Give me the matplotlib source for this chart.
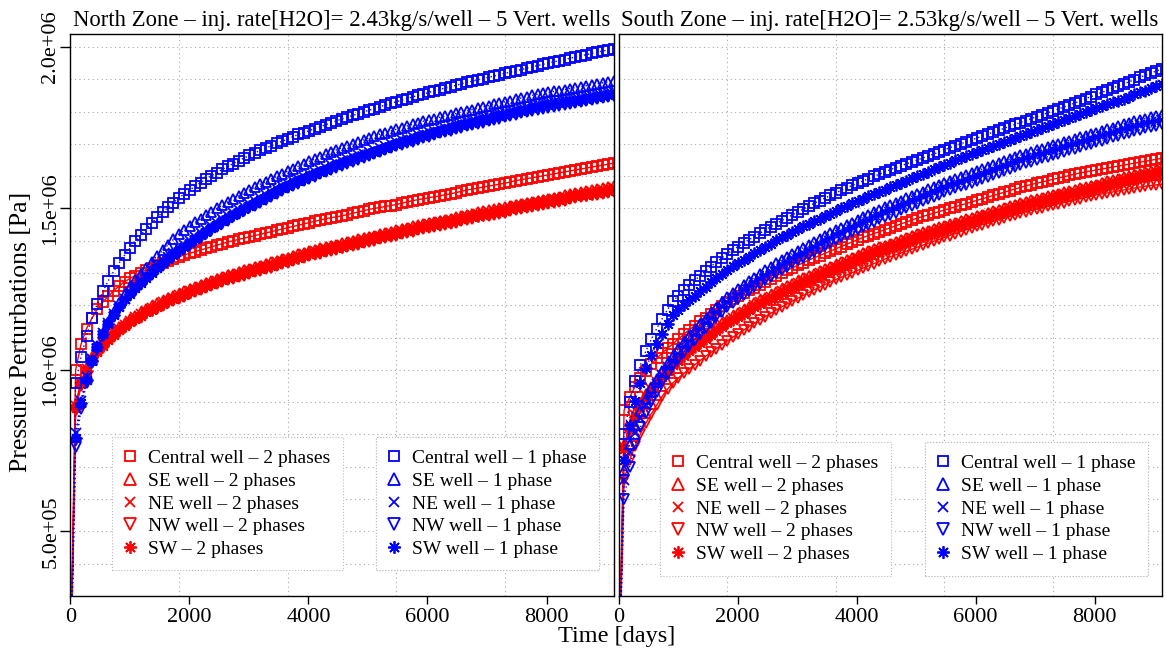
import matplotlib
matplotlib.use('Agg')
import matplotlib.pyplot as plt
from matplotlib.lines import Line2D
import numpy as np

plt.rcParams['font.family'] = ['Liberation Serif', 'DejaVu Serif']

# ------------------------------- Data (pressure in kPa) ------------------------------- #
days = [0, 91, 183, 274, 365, 456, 548, 639, 730, 821, 913, 1004, 1095, 1186, 1278, 1369, 1460,
        1551, 1643, 1734, 1825, 1916, 2008, 2099, 2190, 2281, 2373, 2464, 2555, 2646, 2738, 2829,
        2920, 3011, 3103, 3194, 3285, 3376, 3468, 3559, 3650, 3741, 3833, 3924, 4015, 4106, 4198,
        4289, 4380, 4471, 4563, 4654, 4745, 4836, 4928, 5019, 5110, 5201, 5293, 5384, 5475, 5566,
        5658, 5749, 5840, 5931, 6023, 6114, 6205, 6296, 6388, 6479, 6570, 6661, 6753, 6844, 6935,
        7026, 7118, 7209, 7300, 7391, 7483, 7574, 7665, 7756, 7848, 7939, 8030, 8121, 8213, 8304,
        8395, 8486, 8578, 8669, 8760, 8851, 8943, 9034, 9125]

# North zone - 2 phases
north_central_2ph = [0, 1000, 1080, 1128, 1160, 1188, 1210, 1228, 1245, 1260, 1273,
    1283, 1292, 1301, 1309, 1317, 1324, 1331, 1338, 1344, 1350,
    1356, 1361, 1366, 1371, 1376, 1381, 1386, 1391, 1396, 1400,
    1404, 1408, 1412, 1416, 1420, 1424, 1428, 1432, 1436, 1440,
    1444, 1448, 1452, 1456, 1460, 1464, 1468, 1471, 1474, 1477,
    1481, 1485, 1489, 1493, 1497, 1500, 1503, 1506, 1509, 1512,
    1516, 1520, 1524, 1527, 1530, 1533, 1536, 1539, 1542, 1545,
    1549, 1553, 1557, 1560, 1563, 1566, 1569, 1572, 1575, 1578,
    1582, 1586, 1589, 1592, 1595, 1598, 1601, 1604, 1607, 1610,
    1613, 1616, 1619, 1622, 1625, 1628, 1631, 1634, 1637, 1640]
north_se_2ph = [0, 893, 965, 1008, 1040, 1064, 1085, 1102, 1118, 1132, 1145,
    1157, 1168, 1178, 1188, 1197, 1206, 1214, 1222, 1229, 1236,
    1243, 1250, 1257, 1263, 1269, 1275, 1281, 1287, 1293, 1298,
    1303, 1308, 1313, 1318, 1323, 1328, 1333, 1338, 1343, 1348,
    1353, 1358, 1363, 1368, 1372, 1376, 1380, 1384, 1388, 1392,
    1396, 1400, 1404, 1408, 1412, 1416, 1420, 1424, 1428, 1432,
    1436, 1440, 1444, 1448, 1452, 1456, 1459, 1462, 1465, 1468,
    1472, 1476, 1480, 1484, 1488, 1491, 1494, 1497, 1500, 1503,
    1507, 1511, 1515, 1518, 1521, 1524, 1527, 1530, 1533, 1536,
    1540, 1544, 1547, 1550, 1553, 1556, 1559, 1562, 1565, 1568]
north_ne_2ph = [0, 888, 960, 1003, 1035, 1059, 1080, 1097, 1113, 1127, 1140,
    1152, 1163, 1173, 1183, 1192, 1201, 1209, 1217, 1224, 1231,
    1238, 1245, 1252, 1258, 1264, 1270, 1276, 1282, 1288, 1293,
    1298, 1303, 1308, 1313, 1318, 1323, 1328, 1333, 1338, 1343,
    1348, 1353, 1358, 1363, 1367, 1371, 1375, 1379, 1383, 1387,
    1391, 1395, 1399, 1403, 1407, 1411, 1415, 1419, 1423, 1427,
    1431, 1435, 1439, 1443, 1447, 1451, 1454, 1457, 1460, 1463,
    1467, 1471, 1475, 1479, 1483, 1486, 1489, 1492, 1495, 1498,
    1502, 1506, 1510, 1513, 1516, 1519, 1522, 1525, 1528, 1531,
    1535, 1539, 1542, 1545, 1548, 1551, 1554, 1557, 1560, 1563]
north_nw_2ph = [0, 877, 949, 992, 1024, 1048, 1069, 1086, 1102, 1116, 1129,
    1141, 1152, 1162, 1172, 1181, 1190, 1198, 1206, 1213, 1220,
    1227, 1234, 1241, 1247, 1253, 1259, 1265, 1271, 1277, 1282,
    1287, 1292, 1297, 1302, 1307, 1312, 1317, 1322, 1327, 1332,
    1337, 1342, 1347, 1352, 1356, 1360, 1364, 1368, 1372, 1376,
    1380, 1384, 1388, 1392, 1396, 1400, 1404, 1408, 1412, 1416,
    1420, 1424, 1428, 1432, 1436, 1440, 1443, 1446, 1449, 1452,
    1456, 1460, 1464, 1468, 1472, 1475, 1478, 1481, 1484, 1487,
    1491, 1495, 1499, 1502, 1505, 1508, 1511, 1514, 1517, 1520,
    1524, 1528, 1531, 1534, 1537, 1540, 1543, 1546, 1549, 1552]
north_sw_2ph = [0, 883, 955, 998, 1030, 1054, 1075, 1092, 1108, 1122, 1135,
    1147, 1158, 1168, 1178, 1187, 1196, 1204, 1212, 1219, 1226,
    1233, 1240, 1247, 1253, 1259, 1265, 1271, 1277, 1283, 1288,
    1293, 1298, 1303, 1308, 1313, 1318, 1323, 1328, 1333, 1338,
    1343, 1348, 1353, 1358, 1362, 1366, 1370, 1374, 1378, 1382,
    1386, 1390, 1394, 1398, 1402, 1406, 1410, 1414, 1418, 1422,
    1426, 1430, 1434, 1438, 1442, 1446, 1449, 1452, 1455, 1458,
    1462, 1466, 1470, 1474, 1478, 1481, 1484, 1487, 1490, 1493,
    1497, 1501, 1505, 1508, 1511, 1514, 1517, 1520, 1523, 1526,
    1530, 1534, 1537, 1540, 1543, 1546, 1549, 1552, 1555, 1558]

# North zone - 1 phase
north_central_1ph = [0, 960, 1040, 1105, 1160, 1205, 1243, 1276, 1305, 1331, 1355,
    1377, 1398, 1418, 1437, 1455, 1472, 1488, 1503, 1518, 1532,
    1545, 1557, 1569, 1580, 1591, 1601, 1611, 1621, 1630, 1639,
    1648, 1656, 1664, 1672, 1680, 1687, 1694, 1701, 1708, 1715,
    1722, 1729, 1735, 1741, 1747, 1753, 1759, 1765, 1771, 1777,
    1782, 1788, 1793, 1799, 1804, 1809, 1815, 1820, 1825, 1830,
    1835, 1840, 1845, 1850, 1854, 1859, 1864, 1868, 1873, 1877,
    1881, 1886, 1890, 1894, 1898, 1902, 1906, 1910, 1914, 1918,
    1922, 1926, 1930, 1934, 1938, 1942, 1946, 1950, 1954, 1957,
    1961, 1965, 1969, 1973, 1976, 1980, 1984, 1987, 1991, 1995]
north_se_1ph = [0, 795, 900, 975, 1030, 1075, 1113, 1147, 1179, 1208, 1235,
    1257, 1278, 1298, 1317, 1335, 1353, 1370, 1387, 1404, 1420,
    1433, 1445, 1457, 1468, 1479, 1490, 1500, 1510, 1520, 1530,
    1539, 1548, 1557, 1566, 1575, 1583, 1591, 1599, 1607, 1615,
    1623, 1631, 1639, 1646, 1653, 1660, 1667, 1674, 1681, 1688,
    1694, 1700, 1706, 1712, 1718, 1724, 1730, 1735, 1740, 1745,
    1750, 1755, 1760, 1765, 1770, 1774, 1778, 1782, 1786, 1790,
    1794, 1798, 1802, 1806, 1810, 1814, 1818, 1822, 1826, 1830,
    1834, 1838, 1842, 1846, 1850, 1853, 1856, 1859, 1862, 1865,
    1868, 1871, 1874, 1877, 1880, 1883, 1886, 1889, 1892, 1895]
north_ne_1ph = [0, 805, 905, 978, 1033, 1076, 1113, 1145, 1173, 1198, 1220,
    1242, 1259, 1276, 1292, 1307, 1322, 1336, 1350, 1363, 1376,
    1388, 1400, 1412, 1423, 1434, 1445, 1456, 1466, 1476, 1486,
    1496, 1505, 1514, 1523, 1532, 1541, 1550, 1559, 1568, 1576,
    1584, 1591, 1598, 1605, 1612, 1619, 1626, 1633, 1640, 1646,
    1652, 1658, 1664, 1670, 1676, 1682, 1688, 1694, 1700, 1706,
    1711, 1716, 1721, 1726, 1731, 1736, 1741, 1746, 1750, 1754,
    1759, 1764, 1768, 1772, 1776, 1780, 1784, 1788, 1792, 1796,
    1800, 1804, 1808, 1812, 1816, 1819, 1822, 1825, 1828, 1831,
    1834, 1837, 1840, 1843, 1846, 1849, 1852, 1855, 1858, 1861]
north_nw_1ph = [0, 760, 880, 960, 1020, 1065, 1105, 1135, 1163, 1188, 1210,
    1228, 1245, 1262, 1278, 1293, 1308, 1322, 1336, 1349, 1362,
    1374, 1386, 1398, 1409, 1420, 1431, 1442, 1452, 1462, 1472,
    1482, 1491, 1500, 1509, 1518, 1527, 1536, 1545, 1554, 1562,
    1570, 1577, 1584, 1591, 1598, 1605, 1612, 1619, 1626, 1632,
    1638, 1644, 1650, 1656, 1662, 1668, 1674, 1680, 1686, 1692,
    1697, 1702, 1707, 1712, 1717, 1722, 1727, 1732, 1736, 1740,
    1745, 1750, 1754, 1758, 1762, 1766, 1770, 1774, 1778, 1782,
    1786, 1790, 1794, 1798, 1802, 1805, 1808, 1811, 1814, 1817,
    1820, 1823, 1826, 1829, 1832, 1835, 1838, 1841, 1844, 1847]
north_sw_1ph = [0, 790, 897, 970, 1028, 1072, 1110, 1142, 1170, 1195, 1218,
    1236, 1253, 1270, 1286, 1301, 1316, 1330, 1344, 1357, 1370,
    1382, 1394, 1406, 1417, 1428, 1439, 1450, 1460, 1470, 1480,
    1490, 1499, 1508, 1517, 1526, 1535, 1544, 1553, 1562, 1570,
    1578, 1585, 1592, 1599, 1606, 1613, 1620, 1627, 1634, 1640,
    1646, 1652, 1658, 1664, 1670, 1676, 1682, 1688, 1694, 1700,
    1705, 1710, 1715, 1720, 1725, 1730, 1735, 1740, 1744, 1748,
    1753, 1758, 1762, 1766, 1770, 1774, 1778, 1782, 1786, 1790,
    1794, 1798, 1802, 1806, 1810, 1813, 1816, 1819, 1822, 1825,
    1828, 1831, 1834, 1837, 1840, 1843, 1846, 1849, 1852, 1855]

# South zone - 2 phases
south_central_2ph = [0, 875, 915, 948, 975, 998, 1018, 1036, 1052, 1067, 1081,
    1096, 1110, 1124, 1137, 1150, 1162, 1174, 1186, 1198, 1210,
    1219, 1228, 1237, 1246, 1255, 1264, 1273, 1282, 1291, 1300,
    1308, 1316, 1324, 1332, 1340, 1347, 1354, 1361, 1368, 1375,
    1382, 1389, 1396, 1403, 1410, 1416, 1422, 1428, 1434, 1440,
    1446, 1452, 1458, 1464, 1470, 1475, 1480, 1485, 1490, 1495,
    1500, 1505, 1510, 1515, 1520, 1525, 1530, 1535, 1540, 1545,
    1550, 1555, 1560, 1565, 1570, 1574, 1578, 1582, 1586, 1590,
    1594, 1598, 1602, 1606, 1610, 1613, 1616, 1619, 1622, 1625,
    1628, 1631, 1634, 1637, 1640, 1643, 1646, 1649, 1652, 1655]
south_se_2ph = [0, 766, 826, 866, 898, 924, 948, 969, 989, 1008, 1026,
    1041, 1055, 1069, 1082, 1095, 1108, 1120, 1132, 1144, 1156,
    1166, 1176, 1186, 1196, 1206, 1215, 1224, 1233, 1242, 1251,
    1259, 1267, 1275, 1283, 1291, 1298, 1305, 1312, 1319, 1326,
    1333, 1340, 1347, 1354, 1361, 1367, 1373, 1379, 1385, 1391,
    1397, 1403, 1409, 1415, 1421, 1426, 1431, 1436, 1441, 1446,
    1451, 1456, 1461, 1466, 1471, 1476, 1481, 1486, 1491, 1496,
    1501, 1506, 1511, 1516, 1521, 1525, 1529, 1533, 1537, 1541,
    1546, 1550, 1554, 1558, 1562, 1566, 1570, 1574, 1579, 1584,
    1588, 1592, 1596, 1600, 1604, 1608, 1612, 1616, 1620, 1624]
south_ne_2ph = [0, 760, 820, 860, 892, 918, 942, 963, 983, 1002, 1020,
    1035, 1049, 1063, 1076, 1089, 1102, 1114, 1126, 1138, 1150,
    1160, 1170, 1180, 1190, 1200, 1209, 1218, 1227, 1236, 1245,
    1253, 1261, 1269, 1277, 1285, 1292, 1299, 1306, 1313, 1320,
    1327, 1334, 1341, 1348, 1355, 1361, 1367, 1373, 1379, 1385,
    1391, 1397, 1403, 1409, 1415, 1420, 1425, 1430, 1435, 1440,
    1445, 1450, 1455, 1460, 1465, 1470, 1475, 1480, 1485, 1490,
    1495, 1500, 1505, 1510, 1515, 1519, 1523, 1527, 1531, 1535,
    1540, 1544, 1548, 1552, 1556, 1560, 1564, 1568, 1573, 1578,
    1582, 1586, 1590, 1594, 1598, 1602, 1606, 1610, 1614, 1618]
south_nw_2ph = [0, 660, 720, 765, 802, 835, 864, 891, 918, 940, 960,
    975, 989, 1003, 1016, 1029, 1042, 1054, 1066, 1078, 1090,
    1101, 1112, 1123, 1134, 1145, 1155, 1165, 1175, 1185, 1195,
    1204, 1213, 1222, 1231, 1240, 1248, 1256, 1264, 1272, 1280,
    1287, 1294, 1301, 1308, 1315, 1322, 1329, 1336, 1343, 1350,
    1356, 1362, 1368, 1374, 1380, 1386, 1392, 1398, 1404, 1410,
    1416, 1422, 1428, 1434, 1440, 1445, 1450, 1455, 1460, 1465,
    1470, 1475, 1480, 1485, 1490, 1494, 1498, 1502, 1506, 1510,
    1514, 1518, 1522, 1526, 1530, 1534, 1538, 1542, 1545, 1548,
    1551, 1554, 1557, 1560, 1563, 1566, 1569, 1571, 1573, 1575]
south_sw_2ph = [0, 754, 814, 854, 886, 912, 936, 957, 977, 996, 1014,
    1029, 1043, 1057, 1070, 1083, 1096, 1108, 1120, 1132, 1144,
    1154, 1164, 1174, 1184, 1194, 1203, 1212, 1221, 1230, 1239,
    1247, 1255, 1263, 1271, 1279, 1286, 1293, 1300, 1307, 1314,
    1321, 1328, 1335, 1342, 1349, 1355, 1361, 1367, 1373, 1379,
    1385, 1391, 1397, 1403, 1409, 1414, 1419, 1424, 1429, 1434,
    1439, 1444, 1449, 1454, 1459, 1464, 1469, 1474, 1479, 1484,
    1489, 1494, 1499, 1504, 1509, 1513, 1517, 1521, 1525, 1529,
    1534, 1538, 1542, 1546, 1550, 1554, 1558, 1562, 1567, 1572,
    1576, 1580, 1584, 1588, 1592, 1596, 1600, 1604, 1608, 1612]

# South zone - 1 phase
south_central_1ph = [0, 800, 900, 965, 1015, 1058, 1095, 1128, 1158, 1187, 1213,
    1230, 1246, 1262, 1277, 1292, 1306, 1320, 1334, 1347, 1360,
    1371, 1382, 1393, 1403, 1413, 1423, 1433, 1443, 1453, 1462,
    1471, 1480, 1489, 1498, 1507, 1516, 1524, 1532, 1540, 1548,
    1556, 1564, 1571, 1578, 1585, 1592, 1599, 1606, 1613, 1620,
    1626, 1632, 1638, 1644, 1650, 1656, 1662, 1668, 1675, 1682,
    1688, 1694, 1700, 1706, 1712, 1718, 1724, 1730, 1736, 1742,
    1748, 1754, 1760, 1766, 1772, 1778, 1784, 1790, 1796, 1802,
    1808, 1814, 1820, 1826, 1833, 1840, 1846, 1853, 1859, 1866,
    1873, 1879, 1886, 1892, 1899, 1906, 1912, 1919, 1925, 1932]
south_se_1ph = [0, 690, 770, 828, 872, 910, 943, 972, 998, 1022, 1044,
    1065, 1085, 1104, 1123, 1141, 1159, 1176, 1193, 1209, 1225,
    1238, 1251, 1263, 1275, 1286, 1297, 1308, 1319, 1330, 1340,
    1350, 1360, 1369, 1378, 1387, 1396, 1405, 1414, 1423, 1432,
    1440, 1448, 1456, 1464, 1472, 1480, 1488, 1496, 1503, 1510,
    1517, 1524, 1531, 1538, 1545, 1552, 1559, 1566, 1573, 1580,
    1586, 1592, 1598, 1604, 1610, 1616, 1622, 1628, 1634, 1640,
    1646, 1652, 1658, 1664, 1670, 1675, 1680, 1685, 1690, 1695,
    1700, 1705, 1710, 1715, 1720, 1725, 1730, 1735, 1740, 1745,
    1750, 1755, 1760, 1765, 1770, 1774, 1778, 1782, 1786, 1790]
south_ne_1ph = [0, 660, 745, 805, 852, 892, 926, 956, 983, 1008, 1029,
    1050, 1070, 1089, 1108, 1126, 1144, 1161, 1178, 1194, 1210,
    1223, 1236, 1248, 1260, 1271, 1282, 1293, 1304, 1315, 1325,
    1335, 1345, 1354, 1363, 1372, 1381, 1390, 1399, 1408, 1417,
    1425, 1433, 1441, 1449, 1457, 1465, 1473, 1481, 1488, 1495,
    1502, 1509, 1516, 1523, 1530, 1537, 1544, 1551, 1558, 1565,
    1571, 1577, 1583, 1589, 1595, 1601, 1607, 1613, 1619, 1625,
    1631, 1637, 1643, 1649, 1655, 1660, 1665, 1670, 1675, 1680,
    1685, 1690, 1695, 1700, 1705, 1710, 1715, 1720, 1725, 1730,
    1735, 1740, 1745, 1750, 1755, 1759, 1763, 1767, 1771, 1775]
south_nw_1ph = [0, 600, 700, 770, 822, 865, 900, 932, 961, 987, 1014,
    1035, 1055, 1074, 1093, 1111, 1129, 1146, 1163, 1179, 1195,
    1208, 1221, 1233, 1245, 1256, 1267, 1278, 1289, 1300, 1310,
    1320, 1330, 1339, 1348, 1357, 1366, 1375, 1384, 1393, 1402,
    1410, 1418, 1426, 1434, 1442, 1450, 1458, 1466, 1473, 1480,
    1487, 1494, 1501, 1508, 1515, 1522, 1529, 1536, 1543, 1550,
    1556, 1562, 1568, 1574, 1580, 1586, 1592, 1598, 1604, 1610,
    1616, 1622, 1628, 1634, 1640, 1645, 1650, 1655, 1660, 1665,
    1670, 1675, 1680, 1685, 1690, 1695, 1700, 1705, 1710, 1715,
    1720, 1725, 1730, 1735, 1740, 1744, 1748, 1752, 1756, 1760]
south_sw_1ph = [0, 720, 830, 905, 960, 1005, 1045, 1080, 1112, 1142, 1170,
    1186, 1201, 1216, 1230, 1244, 1258, 1271, 1284, 1297, 1310,
    1321, 1331, 1341, 1351, 1361, 1371, 1381, 1391, 1401, 1410,
    1419, 1428, 1436, 1444, 1452, 1460, 1468, 1476, 1484, 1492,
    1500, 1508, 1516, 1523, 1530, 1537, 1544, 1551, 1558, 1565,
    1572, 1579, 1586, 1593, 1600, 1607, 1614, 1621, 1628, 1635,
    1642, 1649, 1656, 1663, 1670, 1676, 1682, 1688, 1694, 1700,
    1706, 1712, 1718, 1724, 1730, 1736, 1742, 1748, 1755, 1762,
    1768, 1774, 1780, 1786, 1792, 1798, 1804, 1810, 1816, 1822,
    1828, 1834, 1840, 1846, 1853, 1859, 1865, 1872, 1878, 1885]

north_labels_2ph = ['Central well – 2 phases', 'SE well – 2 phases', 'NE well – 2 phases',
                    'NW well – 2 phases', 'SW – 2 phases']
south_labels_2ph = ['Central well – 2 phases', 'SE well – 2 phases', 'NE well – 2 phases',
                    'NW well – 2 phases', 'SW well – 2 phases']
labels_1ph = ['Central well – 1 phase', 'SE well – 1 phase', 'NE well – 1 phase',
              'NW well – 1 phase', 'SW well – 1 phase']

titles = ['North Zone – inj. rate[H2O]= 2.43kg/s/well – 5 Vert. wells',
          'South Zone – inj. rate[H2O]= 2.53kg/s/well – 5 Vert. wells']
y_ticks = [5e5, 1e6, 1.5e6, 2e6]
y_ticklabels = ['5.0e+05', '1.0e+06', '1.5e+06', '2.0e+06']
x_ticks = [0, 2000, 4000, 6000, 8000]

# ------------------------------------- Plot ---------------------------------------- #
markers = ['s', '^', 'x', 'v', (8, 2, 0)]
msizes = [6.5, 7.5, 6.5, 7.5, 8.5]
RED, BLUE = '#ff0000', '#0000ff'
GRID = '#a9a9a9'

fig = plt.figure(figsize=(11.66, 6.49), dpi=100)
ax1 = fig.add_axes([0.0602, 0.0817, 0.4660, 0.8659])
ax2 = fig.add_axes([0.5306, 0.0817, 0.4656, 0.8659])

zones = [
    (ax1, [north_central_2ph, north_se_2ph, north_ne_2ph, north_nw_2ph, north_sw_2ph],
     [north_central_1ph, north_se_1ph, north_ne_1ph, north_nw_1ph, north_sw_1ph],
     north_labels_2ph, 0.283, (0.077, 0.563)),
    (ax2, [south_central_2ph, south_se_2ph, south_ne_2ph, south_nw_2ph, south_sw_2ph],
     [south_central_1ph, south_se_1ph, south_ne_1ph, south_nw_1ph, south_sw_1ph],
     south_labels_2ph, 0.274, (0.076, 0.564)),
]

t = np.array(days)
for i, (ax, two_ph, one_ph, lab2, leg_top, leg_x) in enumerate(zones):
    ax.set_xlim(0, 9125)
    ax.set_ylim(3.0e5, 2.04e6)

    # dotted grid (5 divisions in x, 1e5 steps in y)
    for gx in np.linspace(0, 9125, 6)[1:-1]:
        ax.axvline(gx, color=GRID, lw=0.8, ls=(0, (1, 3)), zorder=0)
    for gy in np.arange(4e5, 2.01e6, 1e5):
        ax.axhline(gy, color=GRID, lw=0.8, ls=(0, (1, 3)), zorder=0)

    for p, m, ms in zip(two_ph, markers, msizes):
        ax.plot(t, np.array(p) * 1e3, color=RED, lw=1.0, ls='-', marker=m, ms=ms,
                mfc='none', mec=RED, mew=1.3)
    for p, m, ms in zip(one_ph, markers, msizes):
        ax.plot(t, np.array(p) * 1e3, color=BLUE, lw=1.0, ls=(0, (1, 2)), marker=m, ms=ms,
                mfc='none', mec=BLUE, mew=1.3)

    ax.set_xticks(x_ticks)
    ax.set_xticklabels([str(x) for x in x_ticks])
    ax.tick_params(axis='x', direction='out', length=6, width=1, labelsize=16, pad=3)
    ax.tick_params(axis='y', direction='out', length=7, width=1, labelsize=16, pad=0)
    if i == 0:
        ax.set_yticks(y_ticks)
        ax.set_yticklabels(y_ticklabels, rotation=90, va='center')
    else:
        ax.set_yticks([])
    for s in ax.spines.values():
        s.set_linewidth(1.0)

    ax.text(0.5, 1.014, titles[i], transform=ax.transAxes, ha='center', va='baseline',
            fontsize=16.4)

    h2 = [Line2D([], [], ls='None', marker=m, ms=ms + 0.5, mfc='none', mec=RED, mew=1.3)
          for m, ms in zip(markers, msizes)]
    h1 = [Line2D([], [], ls='None', marker=m, ms=ms + 0.5, mfc='none', mec=BLUE, mew=1.3)
          for m, ms in zip(markers, msizes)]
    for hs, labs, x0 in [(h2, lab2, leg_x[0]), (h1, labels_1ph, leg_x[1])]:
        leg = ax.legend(hs, labs, loc='upper left', bbox_to_anchor=(x0, leg_top),
                        fontsize=14, frameon=True, fancybox=False, framealpha=1,
                        borderpad=0.65, handlelength=0.56, handletextpad=0.64,
                        labelspacing=0.26, borderaxespad=0)
        fr = leg.get_frame()
        fr.set_edgecolor('#bbbbbb')
        fr.set_linestyle(':')
        fr.set_linewidth(0.8)
        ax.add_artist(leg)

fig.text(0.018, 0.488, 'Pressure Perturbations [Pa]', rotation=90, ha='center',
         va='center', fontsize=18.5)
fig.text(0.529, 0.02, 'Time [days]', ha='center', va='center', fontsize=17.5)

fig.savefig('out.png', dpi=100)
